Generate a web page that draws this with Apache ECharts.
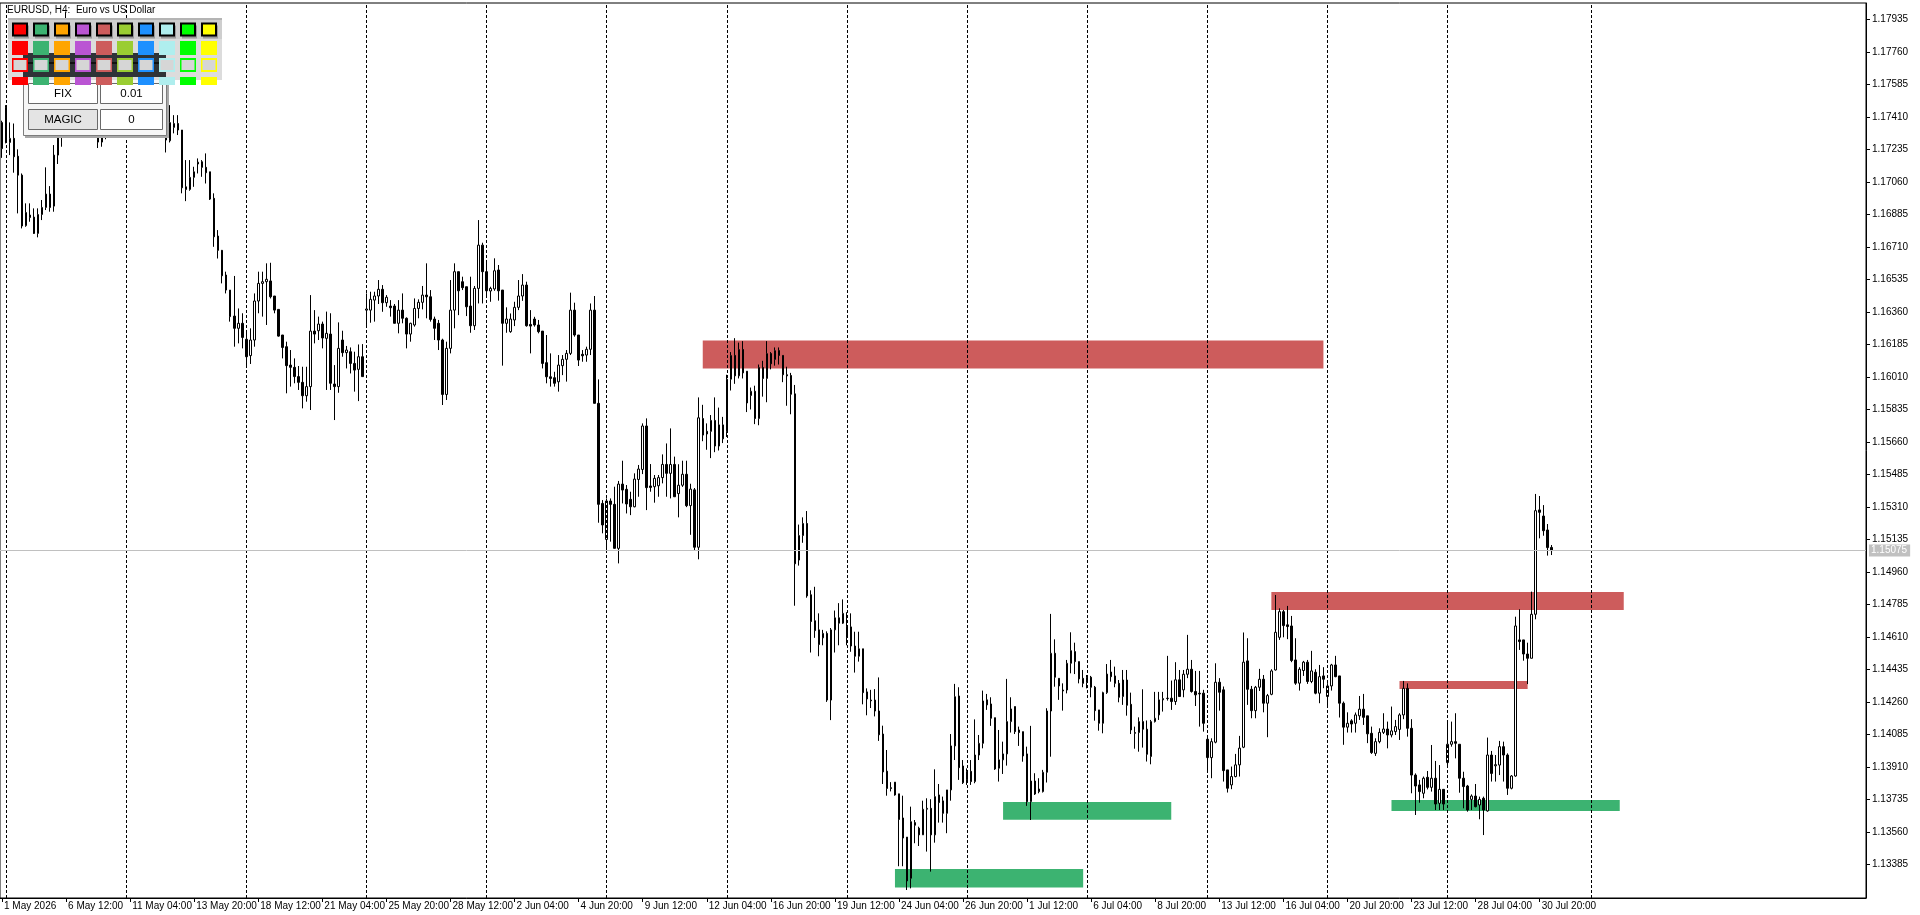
<!DOCTYPE html>
<html>
<head>
<meta charset="utf-8">
<title>EURUSD, H4</title>
<script src="https://cdn.jsdelivr.net/npm/echarts@6/dist/echarts.min.js"></script>
<style>
  html, body { margin: 0; padding: 0; background: #fff; }
  #chart { width: 1920px; height: 915px; }
</style>
</head>
<body>
<div id="chart"></div>
<script>
// H4 bars, one row per bar: [open, close, low, high]
// bar 0 = 1 May 20:00, then 6 bars a trading day up to 31 Jul 08:00
const bars = [
  [1.17380, 1.17240, 1.17190, 1.17390],
  // week of 4 May
  [1.17462, 1.17273, 1.17268, 1.17474], [1.17273, 1.17295, 1.17205, 1.17381], [1.17295, 1.17196, 1.17110, 1.17375],
  [1.17199, 1.17097, 1.16891, 1.17236], [1.17097, 1.16823, 1.16810, 1.17106], [1.16825, 1.16896, 1.16819, 1.16945],
  [1.16882, 1.16869, 1.16846, 1.16945], [1.16871, 1.16783, 1.16780, 1.16918], [1.16783, 1.16885, 1.16762, 1.16918],
  [1.16885, 1.16923, 1.16855, 1.16963], [1.16923, 1.16995, 1.16909, 1.17139], [1.16995, 1.16923, 1.16900, 1.17038],
  [1.16930, 1.17205, 1.16900, 1.17259], [1.17205, 1.17304, 1.17157, 1.17340], [1.17304, 1.17400, 1.17250, 1.17430],
  [1.17400, 1.17780, 1.17380, 1.17975], [1.17780, 1.17850, 1.17700, 1.17920], [1.17850, 1.17760, 1.17720, 1.17900],
  [1.17760, 1.17640, 1.17600, 1.17800], [1.17640, 1.17690, 1.17590, 1.17740], [1.17690, 1.17560, 1.17520, 1.17720],
  [1.17560, 1.17450, 1.17420, 1.17600], [1.17450, 1.17340, 1.17300, 1.17480], [1.17330, 1.17275, 1.17243, 1.17390],
  [1.17275, 1.17320, 1.17250, 1.17400], [1.17320, 1.17420, 1.17290, 1.17460], [1.17420, 1.17510, 1.17380, 1.17560],
  [1.17510, 1.17470, 1.17420, 1.17560], [1.17470, 1.17580, 1.17440, 1.17620], [1.17580, 1.17540, 1.17490, 1.17640],
  // week of 11 May
  [1.17520, 1.17620, 1.17480, 1.17660], [1.17620, 1.17560, 1.17500, 1.17680], [1.17560, 1.17470, 1.17430, 1.17600],
  [1.17470, 1.17530, 1.17410, 1.17570], [1.17530, 1.17450, 1.17400, 1.17580], [1.17450, 1.17380, 1.17330, 1.17490],
  [1.17380, 1.17440, 1.17340, 1.17480], [1.17440, 1.17400, 1.17350, 1.17470], [1.17400, 1.17360, 1.17320, 1.17440],
  [1.17380, 1.17330, 1.17300, 1.17420], [1.17340, 1.17286, 1.17219, 1.17380], [1.17282, 1.17380, 1.17273, 1.17474],
  [1.17354, 1.17375, 1.17322, 1.17420], [1.17375, 1.17340, 1.17313, 1.17420], [1.17340, 1.17029, 1.16999, 1.17340],
  [1.17034, 1.17020, 1.16957, 1.17178], [1.17020, 1.17085, 1.17013, 1.17178], [1.17085, 1.17115, 1.17034, 1.17142],
  [1.17157, 1.17167, 1.17106, 1.17187], [1.17169, 1.17139, 1.17088, 1.17178], [1.17139, 1.17110, 1.17052, 1.17214],
  [1.17115, 1.16968, 1.16963, 1.17115], [1.16972, 1.16765, 1.16711, 1.16999], [1.16769, 1.16692, 1.16648, 1.16801],
  [1.16692, 1.16555, 1.16514, 1.16694], [1.16559, 1.16478, 1.16460, 1.16577], [1.16478, 1.16335, 1.16308, 1.16478],
  [1.16338, 1.16272, 1.16173, 1.16554], [1.16272, 1.16299, 1.16191, 1.16379], [1.16299, 1.16223, 1.16164, 1.16353],
  // week of 18 May
  [1.16213, 1.16119, 1.16074, 1.16263], [1.16125, 1.16209, 1.16080, 1.16272], [1.16209, 1.16419, 1.16173, 1.16460],
  [1.16419, 1.16514, 1.16353, 1.16577], [1.16514, 1.16523, 1.16335, 1.16577], [1.16523, 1.16536, 1.16290, 1.16622],
  [1.16527, 1.16442, 1.16433, 1.16625], [1.16446, 1.16370, 1.16353, 1.16446], [1.16374, 1.16230, 1.16227, 1.16374],
  [1.16236, 1.16169, 1.16110, 1.16236], [1.16173, 1.16071, 1.15922, 1.16200], [1.16074, 1.16062, 1.15958, 1.16155],
  [1.16062, 1.16012, 1.15976, 1.16110], [1.16012, 1.15981, 1.15940, 1.16069], [1.15981, 1.15909, 1.15841, 1.16065],
  [1.15909, 1.15958, 1.15877, 1.16065], [1.15958, 1.16257, 1.15832, 1.16451], [1.16257, 1.16241, 1.16191, 1.16370],
  [1.16259, 1.16295, 1.16209, 1.16335], [1.16295, 1.16220, 1.16164, 1.16308], [1.16218, 1.16245, 1.15940, 1.16362],
  [1.16241, 1.15976, 1.15940, 1.16353], [1.15972, 1.15958, 1.15778, 1.16074], [1.15958, 1.16164, 1.15925, 1.16304],
  [1.16209, 1.16141, 1.16119, 1.16259], [1.16141, 1.16155, 1.16056, 1.16177], [1.16146, 1.16083, 1.16029, 1.16169],
  [1.16083, 1.16047, 1.15931, 1.16146], [1.16051, 1.16119, 1.15880, 1.16185], [1.16119, 1.16012, 1.16012, 1.16187],
  // week of 25 May
  [1.16370, 1.16376, 1.16290, 1.16460], [1.16370, 1.16428, 1.16302, 1.16469], [1.16424, 1.16446, 1.16308, 1.16469],
  [1.16446, 1.16482, 1.16403, 1.16532], [1.16482, 1.16410, 1.16361, 1.16505], [1.16410, 1.16439, 1.16388, 1.16451],
  [1.16392, 1.16383, 1.16335, 1.16424], [1.16392, 1.16299, 1.16299, 1.16403], [1.16299, 1.16370, 1.16245, 1.16424],
  [1.16370, 1.16326, 1.16299, 1.16460], [1.16326, 1.16241, 1.16164, 1.16331], [1.16241, 1.16299, 1.16200, 1.16302],
  [1.16290, 1.16379, 1.16281, 1.16433], [1.16379, 1.16412, 1.16326, 1.16428], [1.16412, 1.16451, 1.16374, 1.16500],
  [1.16451, 1.16442, 1.16326, 1.16622], [1.16442, 1.16320, 1.16308, 1.16478], [1.16322, 1.16272, 1.16209, 1.16335],
  [1.16299, 1.16209, 1.16155, 1.16317], [1.16209, 1.15916, 1.15859, 1.16216], [1.15916, 1.16164, 1.15886, 1.16200],
  [1.16164, 1.16370, 1.16137, 1.16532], [1.16370, 1.16577, 1.16272, 1.16622], [1.16577, 1.16474, 1.16343, 1.16577],
  [1.16523, 1.16491, 1.16478, 1.16550], [1.16496, 1.16388, 1.16338, 1.16496], [1.16392, 1.16286, 1.16248, 1.16550],
  [1.16286, 1.16487, 1.16263, 1.16500], [1.16487, 1.16720, 1.16406, 1.16855], [1.16720, 1.16577, 1.16406, 1.16733],
  // week of 1 Jun
  [1.16577, 1.16474, 1.16451, 1.16640], [1.16473, 1.16487, 1.16415, 1.16496], [1.16484, 1.16582, 1.16474, 1.16649],
  [1.16586, 1.16474, 1.16421, 1.16613], [1.16478, 1.16299, 1.16071, 1.16478], [1.16299, 1.16322, 1.16248, 1.16385],
  [1.16254, 1.16322, 1.16248, 1.16352], [1.16317, 1.16385, 1.16284, 1.16415], [1.16385, 1.16446, 1.16370, 1.16532],
  [1.16446, 1.16505, 1.16420, 1.16564], [1.16505, 1.16286, 1.16281, 1.16523], [1.16293, 1.16284, 1.16137, 1.16370],
  [1.16322, 1.16290, 1.16281, 1.16334], [1.16290, 1.16254, 1.16245, 1.16317], [1.16257, 1.16083, 1.16056, 1.16257],
  [1.16087, 1.16011, 1.15976, 1.16236], [1.16011, 1.16002, 1.15958, 1.16137], [1.16006, 1.15976, 1.15958, 1.16038],
  [1.15984, 1.16074, 1.15931, 1.16128], [1.16071, 1.16105, 1.16020, 1.16128], [1.16105, 1.16137, 1.15985, 1.16155],
  [1.16137, 1.16370, 1.16128, 1.16464], [1.16370, 1.16236, 1.16227, 1.16410], [1.16236, 1.16101, 1.16069, 1.16236],
  [1.16132, 1.16124, 1.16092, 1.16155], [1.16128, 1.16159, 1.16092, 1.16173], [1.16159, 1.16370, 1.16128, 1.16406],
  [1.16370, 1.15868, 1.15868, 1.16446], [1.15868, 1.15324, 1.15225, 1.15997], [1.15329, 1.15213, 1.15168, 1.15347],
  // week of 8 Jun
  [1.15135, 1.15342, 1.15069, 1.15356], [1.15342, 1.15324, 1.15123, 1.15356], [1.15324, 1.15087, 1.15087, 1.15419],
  [1.15087, 1.15433, 1.15006, 1.15450], [1.15433, 1.15401, 1.15329, 1.15559], [1.15405, 1.15326, 1.15275, 1.15428],
  [1.15351, 1.15311, 1.15266, 1.15392], [1.15311, 1.15460, 1.15308, 1.15491], [1.15458, 1.15514, 1.15365, 1.15536],
  [1.15512, 1.15746, 1.15487, 1.15760], [1.15746, 1.15414, 1.15293, 1.15787], [1.15423, 1.15415, 1.15392, 1.15541],
  [1.15419, 1.15464, 1.15333, 1.15482], [1.15424, 1.15468, 1.15365, 1.15482], [1.15468, 1.15539, 1.15437, 1.15593],
  [1.15539, 1.15491, 1.15365, 1.15652], [1.15491, 1.15539, 1.15356, 1.15733], [1.15539, 1.15365, 1.15365, 1.15581],
  [1.15382, 1.15427, 1.15254, 1.15540], [1.15427, 1.15486, 1.15418, 1.15559], [1.15486, 1.15317, 1.15309, 1.15559],
  [1.15317, 1.15406, 1.15160, 1.15435], [1.15402, 1.15093, 1.15073, 1.15412], [1.15093, 1.15790, 1.15028, 1.15900],
  [1.15786, 1.15697, 1.15664, 1.15860], [1.15717, 1.15703, 1.15618, 1.15760], [1.15717, 1.15776, 1.15573, 1.15805],
  [1.15776, 1.15638, 1.15605, 1.15900], [1.15638, 1.15752, 1.15614, 1.15845], [1.15752, 1.15677, 1.15654, 1.15795],
  // week of 15 Jun
  [1.15717, 1.15998, 1.15687, 1.16022], [1.15998, 1.16126, 1.15937, 1.16144], [1.16126, 1.16016, 1.15973, 1.16219],
  [1.16016, 1.16158, 1.16002, 1.16195], [1.16158, 1.16032, 1.16002, 1.16203], [1.16041, 1.15870, 1.15821, 1.16041],
  [1.15910, 1.15933, 1.15835, 1.15953], [1.15933, 1.15786, 1.15756, 1.15963], [1.15786, 1.16061, 1.15750, 1.16077],
  [1.16061, 1.16002, 1.15904, 1.16097], [1.16002, 1.16136, 1.15874, 1.16203], [1.16136, 1.16081, 1.16051, 1.16144],
  [1.16104, 1.16152, 1.16071, 1.16169], [1.16152, 1.16126, 1.16077, 1.16169], [1.16126, 1.16022, 1.15982, 1.16126],
  [1.16022, 1.16016, 1.15855, 1.16065], [1.16018, 1.15917, 1.15809, 1.16032], [1.15919, 1.15004, 1.14778, 1.15967],
  [1.15024, 1.15156, 1.14994, 1.15215], [1.15156, 1.15221, 1.15117, 1.15254], [1.15221, 1.14831, 1.14821, 1.15288],
  [1.14837, 1.14693, 1.14526, 1.14861], [1.14697, 1.14644, 1.14605, 1.14880], [1.14648, 1.14569, 1.14506, 1.14737],
  [1.14605, 1.14629, 1.14565, 1.14648], [1.14629, 1.14270, 1.14260, 1.14640], [1.14270, 1.14648, 1.14162, 1.14658],
  [1.14648, 1.14713, 1.14526, 1.14752], [1.14713, 1.14684, 1.14565, 1.14792], [1.14684, 1.14737, 1.14680, 1.14812],
  // week of 22 Jun
  [1.14609, 1.14664, 1.14565, 1.14743], [1.14664, 1.14561, 1.14530, 1.14737], [1.14561, 1.14506, 1.14418, 1.14638],
  [1.14506, 1.14546, 1.14477, 1.14638], [1.14546, 1.14310, 1.14247, 1.14546], [1.14314, 1.14276, 1.14188, 1.14333],
  [1.14270, 1.14266, 1.14227, 1.14325], [1.14270, 1.14211, 1.14182, 1.14329], [1.14211, 1.14083, 1.14050, 1.14392],
  [1.14087, 1.13883, 1.13818, 1.14132], [1.13887, 1.13794, 1.13755, 1.14001], [1.13798, 1.13794, 1.13778, 1.13828],
  [1.13828, 1.13759, 1.13755, 1.13828], [1.13765, 1.13627, 1.13375, 1.13765], [1.13635, 1.13527, 1.13375, 1.13755],
  [1.13532, 1.13296, 1.13247, 1.13532], [1.13310, 1.13615, 1.13256, 1.13696], [1.13610, 1.13596, 1.13499, 1.13624],
  [1.13580, 1.13544, 1.13484, 1.13588], [1.13544, 1.13682, 1.13544, 1.13728], [1.13682, 1.13687, 1.13454, 1.13741],
  [1.13687, 1.13544, 1.13346, 1.13736], [1.13544, 1.13750, 1.13502, 1.13897], [1.13759, 1.13718, 1.13610, 1.13818],
  [1.13727, 1.13660, 1.13610, 1.13750], [1.13660, 1.13786, 1.13553, 1.13786], [1.13786, 1.14023, 1.13728, 1.14087],
  [1.14023, 1.14288, 1.13947, 1.14357], [1.14292, 1.13906, 1.13840, 1.14339], [1.13915, 1.13825, 1.13818, 1.13947],
  // week of 29 Jun
  [1.13840, 1.13886, 1.13813, 1.13902], [1.13886, 1.13831, 1.13813, 1.13947], [1.13831, 1.13974, 1.13822, 1.14166],
  [1.13974, 1.14037, 1.13947, 1.14082], [1.14037, 1.14265, 1.14010, 1.14321], [1.14271, 1.14244, 1.14217, 1.14303],
  [1.14249, 1.14172, 1.14131, 1.14285], [1.14175, 1.13899, 1.13894, 1.14175], [1.13903, 1.13948, 1.13831, 1.14109],
  [1.13948, 1.13980, 1.13872, 1.14046], [1.13980, 1.14154, 1.13917, 1.14384], [1.14154, 1.14222, 1.14095, 1.14285],
  [1.14235, 1.14100, 1.14087, 1.14235], [1.14109, 1.14095, 1.14023, 1.14127], [1.14100, 1.13969, 1.13938, 1.14100],
  [1.13980, 1.13723, 1.13700, 1.14019], [1.13723, 1.13834, 1.13624, 1.14131], [1.13834, 1.13764, 1.13759, 1.13876],
  [1.13791, 1.13777, 1.13768, 1.13849], [1.13777, 1.13881, 1.13772, 1.13894], [1.13881, 1.14211, 1.13826, 1.14226],
  [1.14211, 1.14522, 1.13965, 1.14734], [1.14522, 1.14393, 1.14342, 1.14597], [1.14387, 1.14346, 1.14271, 1.14387],
  [1.14324, 1.14319, 1.14213, 1.14360], [1.14324, 1.14468, 1.14306, 1.14486], [1.14468, 1.14536, 1.14414, 1.14635],
  [1.14531, 1.14477, 1.14410, 1.14579], [1.14477, 1.14384, 1.14360, 1.14477], [1.14387, 1.14360, 1.14339, 1.14432],
  // week of 6 Jul
  [1.14364, 1.14393, 1.14333, 1.14405], [1.14393, 1.14339, 1.14285, 1.14400], [1.14339, 1.14213, 1.14159, 1.14346],
  [1.14217, 1.14145, 1.14105, 1.14217], [1.14145, 1.14310, 1.14091, 1.14315], [1.14310, 1.14410, 1.14303, 1.14464],
  [1.14421, 1.14396, 1.14369, 1.14486], [1.14400, 1.14360, 1.14339, 1.14450], [1.14360, 1.14285, 1.14258, 1.14378],
  [1.14289, 1.14378, 1.14244, 1.14432], [1.14378, 1.14242, 1.14186, 1.14432], [1.14247, 1.14109, 1.14087, 1.14310],
  [1.14095, 1.14091, 1.14008, 1.14127], [1.14095, 1.14154, 1.13992, 1.14177], [1.14154, 1.14113, 1.14014, 1.14328],
  [1.14113, 1.13978, 1.13939, 1.14160], [1.13966, 1.14154, 1.13924, 1.14163], [1.14154, 1.14172, 1.14149, 1.14314],
  [1.14190, 1.14271, 1.14163, 1.14314], [1.14271, 1.14278, 1.14208, 1.14314], [1.14278, 1.14280, 1.14267, 1.14508],
  [1.14280, 1.14262, 1.14217, 1.14375], [1.14262, 1.14379, 1.14244, 1.14474], [1.14379, 1.14289, 1.14289, 1.14432],
  [1.14325, 1.14409, 1.14285, 1.14432], [1.14409, 1.14436, 1.14388, 1.14621], [1.14436, 1.14316, 1.14310, 1.14486],
  [1.14316, 1.14298, 1.14238, 1.14427], [1.14307, 1.14303, 1.14127, 1.14427], [1.14307, 1.14145, 1.14100, 1.14325],
  // week of 13 Jul
  [1.14059, 1.13960, 1.13879, 1.14082], [1.13960, 1.14046, 1.13849, 1.14064], [1.14043, 1.14366, 1.14037, 1.14468],
  [1.14366, 1.14312, 1.14213, 1.14388], [1.14325, 1.13890, 1.13831, 1.14343], [1.13894, 1.13795, 1.13772, 1.13894],
  [1.13813, 1.13858, 1.13790, 1.13912], [1.13858, 1.13921, 1.13854, 1.13980], [1.13921, 1.14011, 1.13858, 1.14077],
  [1.14016, 1.14474, 1.14011, 1.14634], [1.14481, 1.14328, 1.14244, 1.14603], [1.14328, 1.14213, 1.14172, 1.14346],
  [1.14213, 1.14339, 1.14172, 1.14346], [1.14339, 1.14382, 1.14319, 1.14438], [1.14382, 1.14253, 1.14204, 1.14405],
  [1.14253, 1.14294, 1.14070, 1.14303], [1.14301, 1.14427, 1.14296, 1.14436], [1.14432, 1.14635, 1.14429, 1.14836],
  [1.14608, 1.14746, 1.14594, 1.14764], [1.14746, 1.14671, 1.14608, 1.14755], [1.14675, 1.14666, 1.14598, 1.14777],
  [1.14669, 1.14483, 1.14474, 1.14723], [1.14486, 1.14361, 1.14352, 1.14603], [1.14361, 1.14436, 1.14321, 1.14447],
  [1.14429, 1.14474, 1.14400, 1.14481], [1.14474, 1.14370, 1.14357, 1.14486], [1.14370, 1.14427, 1.14361, 1.14535],
  [1.14420, 1.14307, 1.14301, 1.14436], [1.14307, 1.14396, 1.14253, 1.14459], [1.14400, 1.14382, 1.14334, 1.14447],
  // week of 20 Jul
  [1.14289, 1.14346, 1.14235, 1.14361], [1.14346, 1.14459, 1.14321, 1.14465], [1.14459, 1.14396, 1.14393, 1.14508],
  [1.14400, 1.14253, 1.14176, 1.14400], [1.14253, 1.14124, 1.14029, 1.14262], [1.14124, 1.14145, 1.14095, 1.14204],
  [1.14158, 1.14141, 1.14095, 1.14167], [1.14145, 1.14190, 1.14095, 1.14203], [1.14185, 1.14221, 1.14163, 1.14292],
  [1.14221, 1.14177, 1.14136, 1.14303], [1.14185, 1.14088, 1.14038, 1.14185], [1.14091, 1.13987, 1.13980, 1.14127],
  [1.13983, 1.14046, 1.13969, 1.14064], [1.14046, 1.14096, 1.14037, 1.14118], [1.14096, 1.14114, 1.14087, 1.14199],
  [1.14114, 1.14082, 1.14010, 1.14154], [1.14082, 1.14104, 1.14069, 1.14235], [1.14100, 1.14127, 1.14082, 1.14163],
  [1.14112, 1.14190, 1.14055, 1.14199], [1.14190, 1.14333, 1.14167, 1.14373], [1.14333, 1.14118, 1.14073, 1.14360],
  [1.14118, 1.13866, 1.13768, 1.14167], [1.13866, 1.13807, 1.13651, 1.13875], [1.13813, 1.13777, 1.13717, 1.13840],
  [1.13768, 1.13849, 1.13741, 1.13858], [1.13854, 1.13800, 1.13789, 1.13888], [1.13800, 1.13849, 1.13777, 1.14028],
  [1.13849, 1.13710, 1.13678, 1.13942], [1.13714, 1.13789, 1.13678, 1.13920], [1.13789, 1.13710, 1.13678, 1.13789],
  // week of 27 Jul
  [1.13933, 1.14032, 1.13911, 1.14150], [1.14032, 1.14046, 1.14019, 1.14154], [1.14046, 1.14037, 1.13956, 1.14199],
  [1.14032, 1.13849, 1.13771, 1.14032], [1.13849, 1.13804, 1.13687, 1.13884], [1.13807, 1.13678, 1.13669, 1.13813],
  [1.13735, 1.13753, 1.13678, 1.13762], [1.13753, 1.13696, 1.13692, 1.13818], [1.13705, 1.13735, 1.13628, 1.13750],
  [1.13741, 1.13678, 1.13543, 1.13750], [1.13673, 1.13974, 1.13669, 1.14068], [1.13974, 1.13875, 1.13831, 1.13996],
  [1.13916, 1.13922, 1.13831, 1.13974], [1.13920, 1.14019, 1.13866, 1.14050], [1.14019, 1.13974, 1.13831, 1.14046],
  [1.13974, 1.13795, 1.13759, 1.13983], [1.13795, 1.13861, 1.13789, 1.13866], [1.13861, 1.14669, 1.13857, 1.14719],
  [1.14594, 1.14585, 1.14540, 1.14759], [1.14594, 1.14518, 1.14482, 1.14594], [1.14518, 1.14495, 1.14356, 1.14579],
  [1.14495, 1.14732, 1.14495, 1.14854], [1.14732, 1.15290, 1.14705, 1.15380], [1.15294, 1.15281, 1.15141, 1.15369],
  [1.15261, 1.15182, 1.15155, 1.15320], [1.15186, 1.15091, 1.15048, 1.15218], [1.15092, 1.15075, 1.15051, 1.15105]
];

// time labels, one every 16 bars from bar 0
const tickLabels = [
  '1 May 2026', '6 May 12:00', '11 May 04:00', '13 May 20:00', '18 May 12:00', '21 May 04:00',
  '25 May 20:00', '28 May 12:00', '2 Jun 04:00', '4 Jun 20:00', '9 Jun 12:00', '12 Jun 04:00',
  '16 Jun 20:00', '19 Jun 12:00', '24 Jun 04:00', '26 Jun 20:00', '1 Jul 12:00', '6 Jul 04:00',
  '8 Jul 20:00', '13 Jul 12:00', '16 Jul 04:00', '20 Jul 20:00', '23 Jul 12:00', '28 Jul 04:00',
  '30 Jul 20:00'
];
const tickEvery = 16;

// price scale labels on the right
const priceTicks = [
  1.13385, 1.13560, 1.13735, 1.13910, 1.14085, 1.14260, 1.14435, 1.14610, 1.14785,
  1.14960, 1.15135, 1.15310, 1.15485, 1.15660, 1.15835, 1.16010, 1.16185, 1.16360,
  1.16535, 1.16710, 1.16885, 1.17060, 1.17235, 1.17410, 1.17585, 1.17760, 1.17935
];

// dashed period separators (bar slots, Mondays 00:00)
const separatorBars = [1, 31, 61, 91, 121, 151, 181, 211, 241, 271, 301, 331, 361, 397];

const lastPrice = 1.15075;

// drawn zones: [from bar, to bar, top price, bottom price, colour]
const zones = [
  [175, 330, 1.16207, 1.16055, '#CD5C5C'],
  [317, 405, 1.14852, 1.14755, '#CD5C5C'],
  [349, 381, 1.14373, 1.14330, '#CD5C5C'],
  [223, 270, 1.13360, 1.13260, '#3CB371'],
  [250, 292, 1.13721, 1.13626, '#3CB371'],
  [347, 404, 1.13732, 1.13673, '#3CB371']
];

const swatchColors = ['#FF0000', '#3CB371', '#FFA500', '#BA55D3', '#CD5C5C',
  '#9ACD32', '#1E90FF', '#AFEEEE', '#00FF00', '#FFFF00'];

const slotCount = 466; // bars plus the empty space on the right
const slots = Array.from({ length: slotCount }, (_, i) => String(i));

const FONT = "'Liberation Sans', Arial, sans-serif";

const showTick = (index) => index % tickEvery === 0 && index < bars.length;

// trade panel + colour picker in the top left corner
function panelGraphics() {
  const els = [];
  const rect = (x, y, w, h, style) => els.push({ type: 'rect', z: 100, shape: { x, y, width: w, height: h }, style });
  const text = (x, y, t, size) => els.push({
    type: 'text', z: 101, x, y,
    style: { text: t, fill: '#000', fontSize: size, fontFamily: FONT,
      align: 'center', verticalAlign: 'middle', textAlign: 'center', textVerticalAlign: 'middle' }
  });

  // panel under the picker
  rect(25, 42, 144, 96, { fill: '#a8a8a8' });
  rect(23.5, 40.5, 143, 95, { fill: '#f6f6f6', stroke: '#7d7d7d', lineWidth: 1 });

  // picker background
  rect(8, 18, 214, 62, { fill: '#dcdcdc' });
  rect(8, 18, 214, 21, { fill: '#cecece' });
  rect(8, 18, 214, 2, { fill: '#b4b4b4' });
  // dark header strip of the panel seen through the picker
  rect(23, 53, 143, 24, { fill: '#2f3337' });
  rect(23, 62, 143, 2, { fill: '#111' });

  // buttons
  rect(28.5, 83.5, 69, 20, { fill: '#fff', stroke: '#6a6a6a', lineWidth: 1 });
  rect(100.5, 83.5, 62, 20, { fill: '#fff', stroke: '#6a6a6a', lineWidth: 1 });
  rect(28.5, 109.5, 69, 20, { fill: '#e4e4e4', stroke: '#6a6a6a', lineWidth: 1 });
  rect(100.5, 109.5, 62, 20, { fill: '#fff', stroke: '#6a6a6a', lineWidth: 1 });
  text(63, 94, 'FIX', 11.5);
  text(131.5, 94, '0.01', 11.5);
  text(63, 120, 'MAGIC', 11.5);
  text(131.5, 120, '0', 11.5);

  swatchColors.forEach((c, k) => {
    const x = 12 + 21 * k;
    rect(x + 2, 25.5, 15, 13, { fill: '#9a9a9a' });
    rect(x + 1, 23.5, 14, 12, { fill: c, stroke: '#000', lineWidth: 2 });
    rect(x, 41, 16, 14, { fill: c });
    rect(x, 58, 16, 14, { fill: c });
    rect(x + 1.5, 60, 13, 10, { fill: '#d6d6d6' });
    rect(x, 77, 16, 8, { fill: c });
  });

  els.push({
    type: 'text', z: 101, x: 7, y: 10,
    style: { text: 'EURUSD, H4:  Euro vs US Dollar', fill: '#000', fontSize: 10, fontFamily: FONT,
      verticalAlign: 'middle', textVerticalAlign: 'middle' }
  });
  return els;
}

const chart = echarts.init(document.getElementById('chart'));

chart.setOption({
  animation: false,
  backgroundColor: '#fff',
  grid: { left: 0, right: 54, top: 3, bottom: 17, show: true, borderColor: '#000', borderWidth: 1 },
  xAxis: {
    type: 'category',
    data: slots,
    boundaryGap: true,
    axisLine: { show: true, lineStyle: { color: '#000', width: 1 } },
    axisTick: { show: true, alignWithLabel: true, interval: showTick, length: 4, lineStyle: { color: '#000' } },
    axisLabel: {
      interval: showTick,
      formatter: (v, i) => tickLabels[Math.round(i / tickEvery)] || '',
      align: 'left',
      margin: 3,
      padding: [0, 0, 0, 2],
      color: '#000',
      fontSize: 10,
      fontFamily: FONT
    },
    splitLine: { show: false }
  },
  yAxis: {
    type: 'value',
    position: 'right',
    min: 1.13204,
    max: 1.18024,
    axisLine: { show: true, lineStyle: { color: '#000', width: 1 } },
    axisTick: { show: true, length: 4, customValues: priceTicks, lineStyle: { color: '#000' } },
    axisLabel: {
      customValues: priceTicks,
      formatter: (v) => v.toFixed(5),
      margin: 6,
      color: '#000',
      fontSize: 10,
      fontFamily: FONT
    },
    splitLine: { show: false }
  },
  series: [
    {
      name: 'zones',
      type: 'line',
      data: [],
      z: 1,
      silent: true,
      markArea: {
        silent: true,
        data: zones.map(([a, b, hi, lo, color]) => [
          { xAxis: a, yAxis: hi, itemStyle: { color, opacity: 1 } },
          { xAxis: b, yAxis: lo }
        ])
      },
      markLine: {
        silent: true,
        precision: 5,
        symbol: ['none', 'none'],
        label: { show: false },
        lineStyle: { color: '#000', type: [3, 2], width: 1 },
        data: separatorBars.map((b) => ({ xAxis: b }))
      }
    },
    {
      name: 'EURUSD',
      type: 'candlestick',
      z: 3,
      data: bars,
      barWidth: 2,
      itemStyle: {
        color: '#fff',
        color0: '#000',
        borderColor: '#000',
        borderColor0: '#000',
        borderColorDoji: '#000',
        borderWidth: 1
      },
      markLine: {
        silent: true,
        precision: 5,
        symbol: ['none', 'none'],
        lineStyle: { color: '#c0c0c0', type: 'solid', width: 1 },
        label: {
          show: true,
          position: 'end',
          distance: 3,
          formatter: () => lastPrice.toFixed(5),
          backgroundColor: '#c0c0c0',
          color: '#fff',
          padding: [1, 3, 1, 2],
          fontSize: 10,
          fontFamily: FONT
        },
        data: [{ yAxis: lastPrice }]
      }
    }
  ],
  graphic: { elements: panelGraphics() }
});
</script>
</body>
</html>
